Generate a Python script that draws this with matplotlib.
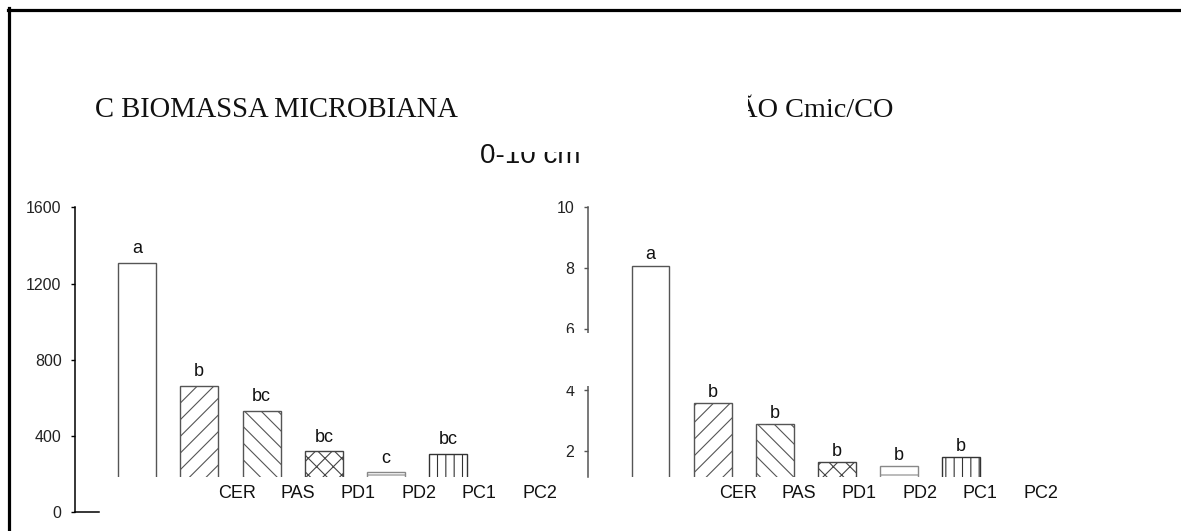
import matplotlib
matplotlib.use("Agg")
import matplotlib.pyplot as plt
from matplotlib.patches import Rectangle
from matplotlib.lines import Line2D
import numpy as np

# ---------------- data ----------------
categories = ["CER", "PAS", "PD1", "PD2", "PC1", "PC2"]
cbm_values = [1309, 664, 533, 320, 210, 306]
cbm_letters = ["a", "b", "bc", "bc", "c", "bc"]
cbm_yticks = [0, 400, 800, 1200, 1600]
ratio_values = [8.09, 3.58, 2.90, 1.64, 1.52, 1.82]
ratio_letters = ["a", "b", "b", "b", "b", "b"]
ratio_yticks = [2, 4, 6, 8, 10]
title_left = "C BIOMASSA MICROBIANA"
title_right = "RELAÇÃO Cmic/CO"
depth_label = "0-10 cm"

# ---------------- style ----------------
plt.rcParams["font.family"] = ["Liberation Sans", "DejaVu Sans"]
plt.rcParams["hatch.linewidth"] = 0.8

W, H = 1181, 531
fig = plt.figure(figsize=(W / 100, H / 100), dpi=100)


def fx(px):
    return px / W


def fy(py):
    return 1 - py / H


hatches = ["", "//", "\\\\", "xx", "-", "||"]
edges = ["#555555", "#555555", "#555555", "#444444", "#888888", "#333333"]

ax_b, ax_t = fy(512.3), fy(207.3)
clip_frac = 35.0 / 305.0


def panel(ax, values, letters, yticks, ymax, xlim, lab_start, lab_step,
          letter_off, spine_color, full_spine):
    x = np.arange(len(values))
    bars = ax.bar(x, values, width=0.61, color="white", linewidth=1.0)
    clip = Rectangle((0, clip_frac), 1, 1 - clip_frac, transform=ax.transAxes)
    for b, h, e in zip(bars, hatches, edges):
        b.set_hatch(h)
        b.set_edgecolor(e)
        b.set_clip_path(clip)
    for xi, v, l in zip(x, values, letters):
        ax.annotate(l, (xi, v), xytext=(0, letter_off), textcoords="offset points",
                    ha="center", va="baseline", fontsize=13, color="#111111")
    ax.set_xlim(*xlim)
    ax.set_ylim(0, ymax)
    ax.set_yticks(yticks)
    ax.set_xticks(lab_start + lab_step * x, categories)
    ax.tick_params(axis="x", length=0, pad=-19.5, labelsize=13, labelcolor="#111111")
    ax.tick_params(axis="y", direction="out", length=3.2, width=1.0, pad=6.5,
                   labelsize=11.5, labelcolor="#222222", color=spine_color)
    for s in ["top", "right", "bottom"]:
        ax.spines[s].set_visible(False)
    ax.spines["left"].set_color(spine_color)
    ax.spines["left"].set_linewidth(1.1)
    if not full_spine:
        ax.spines["left"].set_bounds(clip_frac * ymax, ymax)
    ax.patch.set_visible(False)


ax1 = fig.add_axes([fx(75), ax_b, fx(560) - fx(75), ax_t - ax_b])
panel(ax1, cbm_values, cbm_letters, cbm_yticks, 1600, (-0.995, 6.79), 1.61, 0.97,
      7, "#000000", True)
ax1.axhline(0, xmin=0, xmax=24 / 485, color="#000000", linewidth=1.1, clip_on=False)

ax2 = fig.add_axes([fx(587.8), ax_b, fx(1100) - fx(587.8), ax_t - ax_b])
panel(ax2, ratio_values, ratio_letters, ratio_yticks, 10, (-1.011, 7.24), 1.41, 0.975,
      4.5, "#555555", False)

# titles
fig.text(fx(95), fy(117), title_left, family="Liberation Serif", fontsize=20.6,
         ha="left", va="baseline", color="#111111")
fig.text(fx(893), fy(117), title_right, family="Liberation Serif", fontsize=20.3,
         ha="right", va="baseline", color="#111111")
fig.text(fx(480), fy(163), depth_label, fontsize=20, ha="left", va="baseline",
         color="#111111")

# white masks (cropped artefacts of the original)
def mask(x0, y0, x1, y1):
    fig.add_artist(Rectangle((fx(x0), fy(y1)), fx(x1) - fx(x0), fy(y0) - fy(y1),
                             transform=fig.transFigure, facecolor="white",
                             edgecolor="none", zorder=10))

mask(600, 80, 748, 125)
mask(494, 130, 610, 152)
mask(545, 333, 591, 386)

# frame lines
fig.add_artist(Line2D([fx(8), 1], [fy(9.5), fy(9.5)], transform=fig.transFigure,
                      color="black", linewidth=2.3, zorder=11))
fig.add_artist(Line2D([fx(9.5), fx(9.5)], [0, fy(8)], transform=fig.transFigure,
                      color="black", linewidth=2.3, zorder=11))

fig.savefig("out.png", dpi=100)
